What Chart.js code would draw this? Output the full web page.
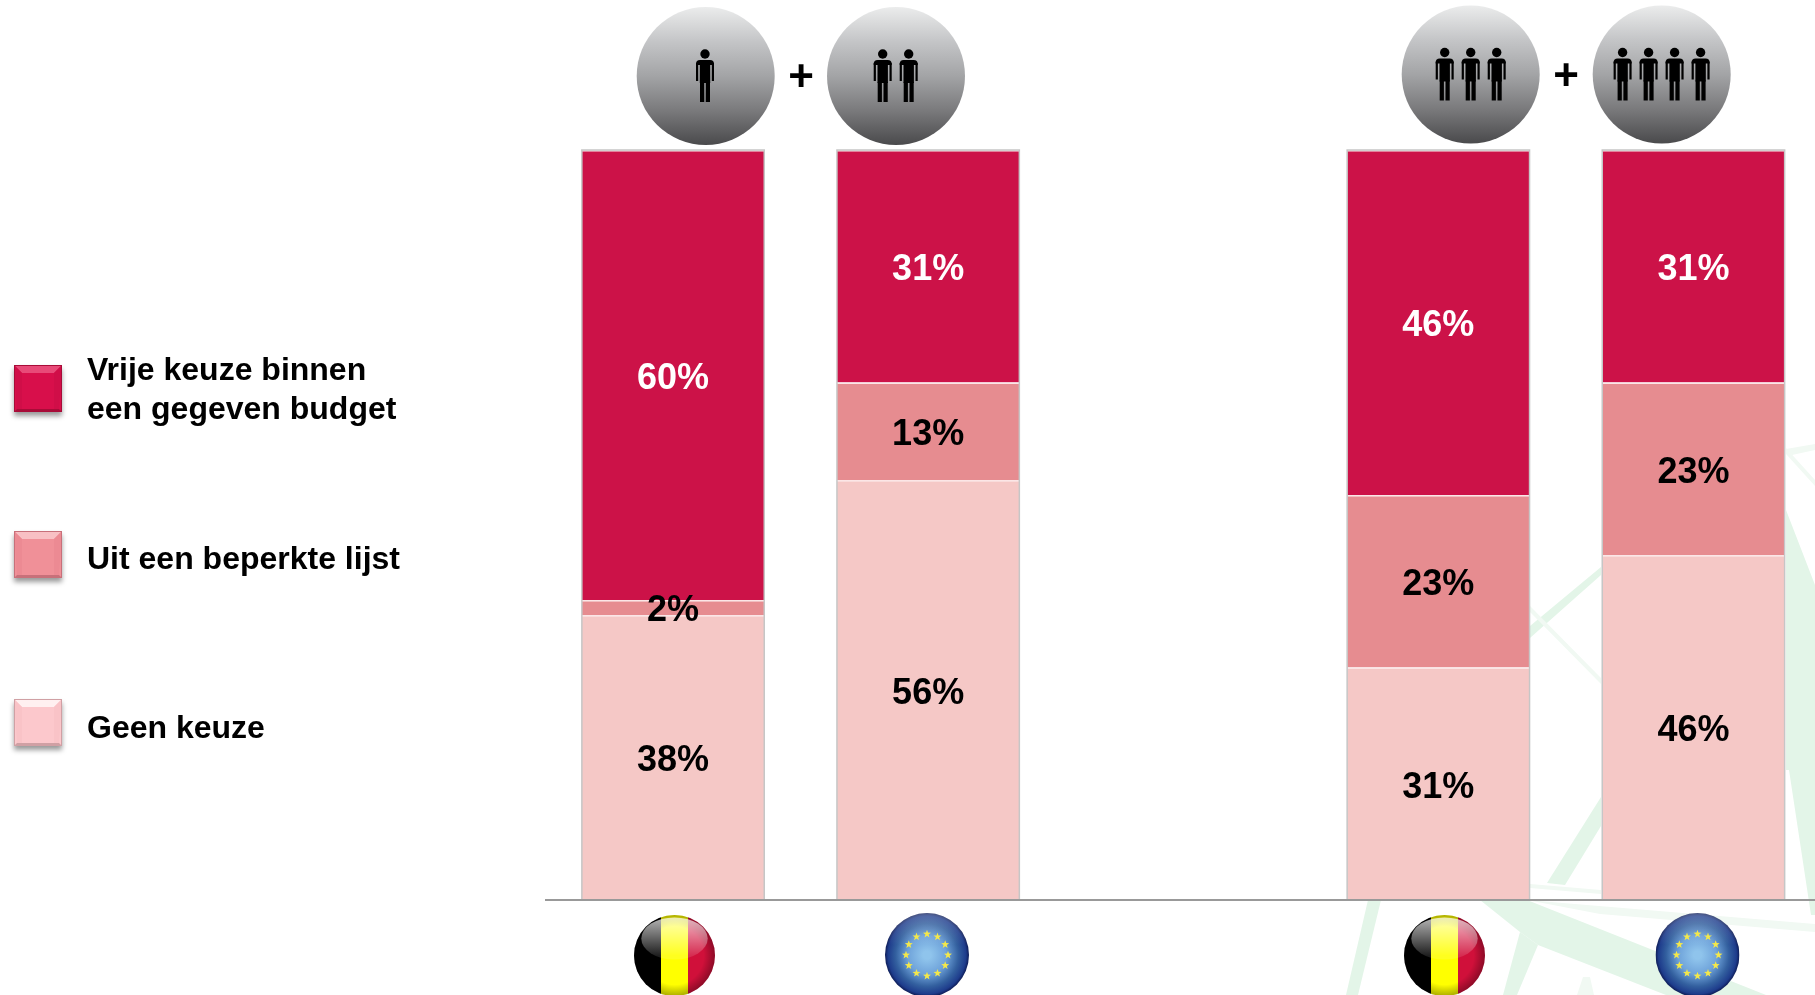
<!DOCTYPE html>
<html lang="nl">
<head>
<meta charset="utf-8">
<title>Keuze</title>
<style>
html,body{margin:0;padding:0;background:#fff;overflow:hidden;width:1815px;height:995px}
#wrap{position:absolute;left:0;top:0;width:1830px;height:995px}
</style>
<script src="https://cdn.jsdelivr.net/npm/chart.js@4/dist/chart.umd.js"></script>
</head>
<body>
<div id="wrap"><canvas id="c" width="1830" height="995"></canvas></div>
<script>
const categories = ['België', 'EU', '', 'België', 'EU'];
const geenKeuze = [38, 56, null, 31, 46];
const beperkteLijst = [2, 13, null, 23, 23];
const vrijeKeuze = [60, 31, null, 46, 31];
const legendLabels = [['Vrije keuze binnen', 'een gegeven budget'], ['Uit een beperkte lijst'], ['Geen keuze']];
const personCounts = [1, 2, 3, 4];

const colVrij = '#CC1248', colBep = '#E68C90', colGeen = '#F5C8C6';
const FONT = '"Liberation Sans", Arial, sans-serif';

function poly(ctx, pts, fill) {
  ctx.fillStyle = fill; ctx.beginPath();
  pts.forEach((p, i) => i ? ctx.lineTo(p[0], p[1]) : ctx.moveTo(p[0], p[1]));
  ctx.closePath(); ctx.fill();
}
function drawWatermark(ctx) {
  const g = '#e3f5e8', p = '#f1f9f3';
  poly(ctx, [[1530,626],[1601,567],[1601,575],[1530,638]], g);
  poly(ctx, [[1530,606],[1601,678],[1601,684],[1530,612]], p);
  poly(ctx, [[1547,883],[1601,797],[1601,826],[1565,885]], g);
  poly(ctx, [[1530,884],[1601,890],[1601,894],[1530,888]], p);
  poly(ctx, [[1786,510],[1815,585],[1815,915],[1811,915],[1789,770],[1786,770]], g);
  poly(ctx, [[1786,449],[1815,444],[1815,450],[1792,455]], p);
  poly(ctx, [[1786,448],[1815,480],[1815,486],[1786,454]], p);
  poly(ctx, [[1368,900],[1381,900],[1358,995],[1346,995]], g);
  poly(ctx, [[1527,900],[1815,924],[1815,932],[1600,914]], p);
  poly(ctx, [[1480,900],[1527,900],[1766,995],[1666,995],[1538,945],[1520,932]], g);
  poly(ctx, [[1520,932],[1538,945],[1517,995],[1503,995]], g);
  poly(ctx, [[1583,977],[1590,977],[1594,995],[1577,995]], p);
}
function drawLegend(ctx) {
  const rows = [
    {y:365, base:'#D80F4B', top:'#E84A78', side:'#D00E48', dark:'#A80C38', text:[371,410]},
    {y:531, base:'#F09098', top:'#F8C0C4', side:'#EC8A93', dark:'#C8707A', text:[560]},
    {y:699, base:'#FCC8CC', top:'#FFF0F0', side:'#F9C3C7', dark:'#D0A0A4', text:[729]}
  ];
  rows.forEach((r, i) => {
    const x = 14, w = 48, h = 47, b = 8, y = r.y;
    ctx.save();
    ctx.shadowColor = 'rgba(0,0,0,.4)'; ctx.shadowBlur = 5; ctx.shadowOffsetY = 4;
    ctx.fillStyle = r.base; ctx.fillRect(x, y, w, h);
    ctx.restore();
    poly(ctx, [[x,y],[x+w,y],[x+w-b,y+b],[x+b,y+b]], r.top);
    poly(ctx, [[x,y],[x+b,y+b],[x+b,y+h-3],[x+3,y+h-3]], r.side);
    poly(ctx, [[x+w,y],[x+w-b,y+b],[x+w-b,y+h-3],[x+w-3,y+h-3]], r.side);
    poly(ctx, [[x,y+h],[x+w,y+h],[x+w-3,y+h-3],[x+3,y+h-3]], r.dark);
    ctx.strokeStyle = r.dark; ctx.lineWidth = 1; ctx.strokeRect(x+.5, y+.5, w-1, h-1);
    ctx.fillStyle = '#000'; ctx.font = 'bold 32px ' + FONT;
    ctx.textAlign = 'left'; ctx.textBaseline = 'middle';
    legendLabels[i].forEach((t, k) => ctx.fillText(t, 87, r.text[k]));
  });
}
function drawPerson(ctx, cx, top) {
  ctx.fillStyle = '#000';
  ctx.beginPath(); ctx.arc(cx, top + 5, 4.7, 0, Math.PI * 2); ctx.fill();
  const y = top + 11;
  ctx.beginPath(); ctx.roundRect(cx - 9, y, 18, 5, [4,4,0,0]); ctx.fill();
  ctx.fillRect(cx - 9, y + 3, 2.2, 18);
  ctx.fillRect(cx + 6.8, y + 3, 2.2, 18);
  ctx.fillRect(cx - 5.2, y + 2, 10.4, 21);
  ctx.fillRect(cx - 5, y + 22, 4.2, 20);
  ctx.fillRect(cx + 0.8, y + 22, 4.2, 20);
}
function drawCircles(ctx) {
  const circles = [
    {cx:705.7, cy:76, px:705},
    {cx:896, cy:76, px:895.7},
    {cx:1470.7, cy:74.5, px:1470.7},
    {cx:1661.7, cy:74.5, px:1661.6}
  ];
  circles.forEach((c, i) => {
    const r = 69;
    const g = ctx.createLinearGradient(0, c.cy - r, 0, c.cy + r);
    g.addColorStop(0, '#ebecec'); g.addColorStop(.25, '#c4c5c7');
    g.addColorStop(.5, '#a3a4a6'); g.addColorStop(.75, '#7a7a7c'); g.addColorStop(1, '#4a4a4c');
    ctx.fillStyle = g; ctx.beginPath(); ctx.arc(c.cx, c.cy, r, 0, Math.PI * 2); ctx.fill();
    const n = personCounts[i];
    for (let k = 0; k < n; k++) drawPerson(ctx, c.px + (k - (n - 1) / 2) * 26, c.cy - 27);
  });
  ctx.fillStyle = '#000'; ctx.font = 'bold 44px ' + FONT;
  ctx.textAlign = 'center'; ctx.textBaseline = 'middle';
  ctx.fillText('+', 801, 79);
  ctx.fillText('+', 1566, 78);
}
function sphereEdge(ctx, cx, cy, r) {
  const e = ctx.createRadialGradient(cx, cy, r * .72, cx, cy, r);
  e.addColorStop(0, 'rgba(0,0,0,0)'); e.addColorStop(1, 'rgba(0,0,0,.32)');
  ctx.fillStyle = e; ctx.fillRect(cx - r, cy - r, 2 * r, 2 * r);
}
function drawBE(ctx, cx, cy) {
  const r = 40.5;
  ctx.save(); ctx.beginPath(); ctx.arc(cx, cy, r, 0, Math.PI * 2); ctx.clip();
  ctx.fillStyle = '#000'; ctx.fillRect(cx - r, cy - r, 27, 2 * r);
  ctx.fillStyle = '#FFFF00'; ctx.fillRect(cx - r + 27, cy - r, 27, 2 * r);
  ctx.fillStyle = '#D0103A'; ctx.fillRect(cx - r + 54, cy - r, 28, 2 * r);
  sphereEdge(ctx, cx, cy, r);
  const g = ctx.createLinearGradient(0, cy - r, 0, cy);
  g.addColorStop(0, 'rgba(255,255,255,.75)'); g.addColorStop(1, 'rgba(255,255,255,.12)');
  ctx.fillStyle = g; ctx.beginPath(); ctx.ellipse(cx, cy - r * .42, r * .82, r * .52, 0, 0, Math.PI * 2); ctx.fill();
  ctx.restore();
}
function drawEU(ctx, cx, cy) {
  const r = 42;
  ctx.save(); ctx.beginPath(); ctx.arc(cx, cy, r, 0, Math.PI * 2); ctx.clip();
  const g = ctx.createRadialGradient(cx, cy, 4, cx, cy, r);
  g.addColorStop(0, '#8FC4EC'); g.addColorStop(.4, '#6FA3DA'); g.addColorStop(.72, '#33609F'); g.addColorStop(.92, '#1E3C8C'); g.addColorStop(1, '#0E1C56');
  ctx.fillStyle = g; ctx.fillRect(cx - r, cy - r, 2 * r, 2 * r);
  const gl = ctx.createLinearGradient(0, cy - r, 0, cy - 10);
  gl.addColorStop(0, 'rgba(255,255,255,.25)'); gl.addColorStop(1, 'rgba(255,255,255,0)');
  ctx.fillStyle = gl; ctx.fillRect(cx - r, cy - r, 2 * r, r);
  ctx.restore();
  ctx.fillStyle = '#F4E84A';
  for (let s = 0; s < 12; s++) {
    const a = s * Math.PI / 6, sx = cx + 21 * Math.sin(a), sy = cy - 21 * Math.cos(a);
    ctx.beginPath();
    for (let k = 0; k < 10; k++) {
      const rr = k % 2 ? 1.7 : 4.2, t = k * Math.PI / 5;
      ctx.lineTo(sx + rr * Math.sin(t), sy - rr * Math.cos(t));
    }
    ctx.closePath(); ctx.fill();
  }
}
const decor = {
  id: 'decor',
  beforeDraw(chart) { drawWatermark(chart.ctx); },
  afterDatasetsDraw(chart) {
    const ctx = chart.ctx;
    const top = chart.getDatasetMeta(2).data, bottom = chart.scales.y.getPixelForValue(0);
    ctx.save();
    ctx.strokeStyle = '#c6c6c6'; ctx.lineWidth = 1.5;
    top.forEach((el, i) => {
      if (vrijeKeuze[i] == null) return;
      ctx.strokeRect(el.x - el.width / 2, el.y, el.width, bottom - el.y);
    });
    ctx.font = 'bold 36px ' + FONT; ctx.textAlign = 'center'; ctx.textBaseline = 'middle';
    chart.data.datasets.forEach((ds, d) => {
      chart.getDatasetMeta(d).data.forEach((el, i) => {
        if (ds.data[i] == null) return;
        const c = el.getCenterPoint();
        ctx.fillStyle = d === 2 ? '#fff' : '#000';
        ctx.fillText(ds.data[i] + '%', c.x, c.y + 4);
      });
    });
    ctx.restore();
  },
  afterDraw(chart) {
    const ctx = chart.ctx;
    ctx.save();
    drawLegend(ctx);
    drawCircles(ctx);
    drawBE(ctx, 674.5, 955.5); drawEU(ctx, 927, 955);
    drawBE(ctx, 1444.5, 955.5); drawEU(ctx, 1697.5, 955);
    ctx.restore();
  }
};
new Chart(document.getElementById('c'), {
  type: 'bar',
  data: {
    labels: categories,
    datasets: [
      {label: 'Geen keuze', data: geenKeuze, backgroundColor: colGeen, stack: 's'},
      {label: 'Uit een beperkte lijst', data: beperkteLijst, backgroundColor: colBep, stack: 's'},
      {label: 'Vrije keuze binnen een gegeven budget', data: vrijeKeuze, backgroundColor: colVrij, stack: 's'}
    ]
  },
  options: {
    responsive: false, animation: false,
    layout: {padding: {left: 545.5, right: 9, top: 150, bottom: 87}},
    datasets: {bar: {barPercentage: .715, categoryPercentage: 1, borderWidth: {top: 1.5}, borderColor: '#fbe6e6', borderSkipped: false}},
    plugins: {legend: {display: false}, tooltip: {enabled: false}},
    scales: {
      x: {stacked: true, grid: {display: false}, ticks: {display: false},
          border: {display: true, color: '#999', width: 2, z: 2}},
      y: {stacked: true, display: false, min: 0, max: 100}
    }
  },
  plugins: [decor]
});
</script>
</body>
</html>
